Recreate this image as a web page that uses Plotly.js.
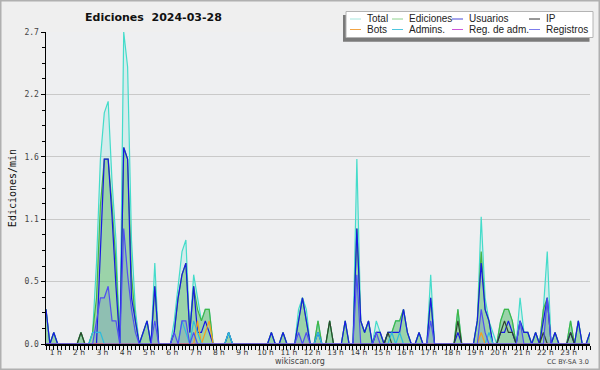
<!DOCTYPE html>
<html><head><meta charset="utf-8">
<script src="https://cdn.plot.ly/plotly-3.0.1.min.js"></script>
<style>html,body{margin:0;padding:0;background:#efefef}#chart{width:600px;height:370px}</style>
</head><body><div id="chart"></div>
<script>
// 10-minute bins, edits per minute
const hourLabels = ['1 h','2 h','3 h','4 h','5 h','6 h','7 h','8 h','9 h','10 h','11 h','12 h','13 h','14 h','15 h','16 h','17 h','18 h','19 h','20 h','21 h','22 h','23 h'];
const yTickText = ['0.0','0.5','1.1','1.6','2.2','2.7'];
const yTickVals = [0, 0.54, 1.08, 1.62, 2.16, 2.7];

const total = [
0.3,0,0.1,0,0,0,0,0,0,0.1,
0,0,0.1,0.7,1.6,2.0,2.1,1.4,0.9,0,
2.7,2.4,0.9,0.3,0,0.1,0.2,0,0.7,0,
0,0,0,0.2,0.5,0.8,0.9,0.1,0.6,0.4,
0.2,0.3,0.3,0,0,0,0,0.1,0,0,
0,0,0,0,0,0,0,0,0.1,0,
0,0.1,0,0,0,0.3,0.4,0.3,0,0,
0.2,0,0,0.2,0,0,0,0.2,0,0,
1.6,0.2,0.1,0.2,0,0.2,0.1,0,0.1,0.1,
0.2,0.2,0.3,0.1,0,0,0.1,0,0,0.6,
0,0,0,0,0,0,0.3,0,0,0,
0,0.2,1.1,0.4,0.2,0.1,0,0.2,0.3,0.3,
0.2,0,0.4,0.1,0.1,0,0.1,0,0.3,0.8,
0,0.1,0,0,0,0.2,0,0.2,0,0,0.1];

const ediciones = [
0.3,0,0.1,0,0,0,0,0,0,0.1,
0,0,0.1,0.4,1.2,1.6,1.6,1.2,0.7,0,
1.7,1.6,0.6,0.2,0,0.1,0.2,0,0.5,0,
0,0,0,0.1,0.4,0.6,0.7,0.1,0.5,0.3,
0.2,0.3,0.3,0,0,0,0,0.1,0,0,
0,0,0,0,0,0,0,0,0.1,0,
0,0.1,0,0,0,0.2,0.4,0.2,0,0,
0.2,0,0,0.2,0,0,0,0.2,0,0,
1.0,0.2,0.1,0.2,0,0.1,0.1,0,0.1,0.1,
0.2,0.2,0.3,0.1,0,0,0.1,0,0,0.4,
0,0,0,0,0,0,0.3,0,0,0,
0,0.2,0.8,0.3,0.2,0,0,0.2,0.3,0.3,
0.2,0,0.2,0.1,0.1,0,0.1,0,0.3,0.4,
0,0.1,0,0,0,0.2,0,0.2,0,0,0.1];

const usuarios = [
0.3,0,0.1,0,0,0,0,0,0,0,
0,0,0,0,0.8,1.6,1.6,1.1,0.5,0,
1.7,1.6,0.4,0.2,0,0.1,0.2,0,0.5,0,
0,0,0,0.1,0.4,0.6,0.7,0.1,0.5,0.1,
0.1,0.2,0.1,0,0,0,0,0.1,0,0,
0,0,0,0,0,0,0,0,0.1,0,
0,0.1,0,0,0,0.2,0.4,0.2,0,0,
0.1,0,0,0,0,0,0,0.2,0,0,
1.0,0.2,0.1,0.2,0,0.1,0.1,0,0.1,0.1,
0.1,0.1,0.3,0.1,0,0,0.1,0,0,0.4,
0,0,0,0,0,0,0.1,0,0,0,
0,0.2,0.7,0.3,0.2,0,0,0.1,0.1,0.2,
0.1,0,0.2,0.1,0.1,0,0.1,0,0.2,0.4,
0,0.1,0,0,0,0.1,0,0.2,0,0,0.1];

const ip = [
0,0,0,0,0,0,0,0,0,0.1,
0,0,0,0,0,0,0,0,0,0,
0,0,0,0,0,0,0,0,0,0,
0,0,0,0,0,0,0,0,0,0,
0,0,0,0,0,0,0,0,0,0,
0,0,0,0,0,0,0,0,0,0,
0,0,0,0,0,0,0,0,0,0,
0,0,0,0.2,0,0,0,0,0,0,
0,0,0,0,0,0,0,0,0.1,0,
0,0,0,0,0,0,0,0,0,0,
0,0,0,0,0,0,0.2,0,0,0,
0,0,0,0,0,0,0,0.1,0.2,0.1,
0.1,0,0,0,0,0,0,0,0.1,0,
0,0,0,0,0,0.1,0,0,0,0,0];

const bots = [
0,0,0,0,0,0,0,0,0,0,
0,0,0,0,0,0,0,0,0,0,
0,0,0,0,0,0,0,0,0,0,
0,0,0,0,0,0,0,0,0,0.2,
0,0.1,0.2,0,0,0,0,0,0,0,
0,0,0,0,0,0,0,0,0,0,
0,0,0,0,0,0,0,0,0,0,
0,0,0,0,0,0,0,0,0,0,
0,0,0,0,0,0,0,0,0,0,
0,0,0,0,0,0,0,0,0,0,
0,0,0,0,0,0,0,0,0,0,
0,0,0.1,0,0,0,0,0,0,0,
0,0,0,0,0,0,0,0,0,0,
0,0,0,0,0,0,0,0,0,0,0];

const admins = [
0,0,0,0,0,0,0,0,0,0,
0,0,0.1,0.1,0.1,0,0,0,0,0,
0,0,0,0,0,0,0,0,0,0,
0,0,0,0,0,0.2,0.1,0,0.2,0.1,
0,0,0,0,0,0,0,0.1,0,0,
0,0,0,0,0,0,0,0,0,0,
0,0,0,0,0,0,0,0,0,0,
0.1,0,0,0,0,0,0,0,0,0,
0,0,0,0,0,0,0,0,0,0.1,
0,0.1,0,0,0,0,0,0,0,0,
0,0,0,0,0,0,0,0,0,0,
0,0,0,0,0.1,0,0,0,0,0,
0,0,0,0,0,0,0,0,0,0,
0,0,0,0,0,0,0,0,0,0,0];

const regAdm = [
0,0,0,0,0,0,0,0,0,0,
0,0,0,0,0,0,0,0,0,0,
0,0,0,0,0,0,0,0,0,0,
0,0,0,0,0,0,0,0,0,0,
0,0,0,0,0,0,0,0,0,0,
0,0,0,0,0,0,0,0,0,0,
0,0,0,0,0,0,0,0,0,0,
0,0,0,0,0,0,0,0,0,0,
0,0,0,0,0,0,0,0,0,0,
0,0,0,0,0,0,0,0,0,0,
0,0,0,0,0,0,0,0,0,0,
0,0,0,0,0,0,0,0,0,0,
0,0,0,0,0,0,0,0,0,0,
0,0,0,0,0,0,0,0,0,0,0];

const registros = [
0,0,0,0,0,0,0,0,0,0,
0,0,0,0.2,0.4,0.4,0.5,0.2,0.2,0,
1.0,0.6,0.3,0.1,0,0,0,0,0.2,0,
0,0,0,0.1,0,0.2,0.2,0,0.1,0,
0,0,0,0,0,0,0,0,0,0,
0,0,0,0,0,0,0,0,0,0,
0,0,0,0,0,0.1,0,0.1,0,0,
0,0,0,0,0,0,0,0,0,0,
0.6,0,0,0,0,0.1,0,0,0,0,
0,0,0,0,0,0,0,0,0,0.2,
0,0,0,0,0,0,0,0,0,0,
0,0,0.3,0.1,0,0,0,0,0,0,
0,0,0.2,0,0,0,0,0,0,0.4,
0,0,0,0,0,0,0,0,0,0,0];

const seriesNames = ['Total','Ediciones','Usuarios','IP','Bots','Admins.','Reg. de adm.','Registros'];
const seriesData = [total, ediciones, usuarios, ip, bots, admins, regAdm, registros];
const lineColors = ['#44dcca','#44b444','#1818e4','#2e452e','#f5a020','#30bcdc','#cc44cc','#5050f0'];
const legendColors = ['#a6e6de','#8ed28e','#4848d8','#303030','#f2a444','#4ec6de','#cc55d8','#7c7cec'];

const idx = total.map((_, i) => i);
const hourPos = hourLabels.map((_, k) => 6 * (k + 1) - 3.5);

const W = 600, H = 370, ml = 46, mr = 10, mt = 32, mb = 26;
const pw = W - ml - mr, ph = H - mt - mb;
const px = v => (v - ml) / pw;
const py = v => 1 - (v - mt) / ph;

const traces = [];
// area fills
[[total, 'rgba(64,224,208,0.15)'], [ediciones, 'rgba(70,175,70,0.40)'], [registros, 'rgba(70,70,235,0.14)']].forEach(([d, c]) => {
  traces.push({x: idx, y: d, type: 'scatter', mode: 'lines', line: {width: 0, color: 'rgba(0,0,0,0)'},
    fill: 'tozeroy', fillcolor: c, hoverinfo: 'skip', showlegend: false});
});
seriesData.forEach((d, s) => {
  traces.push({x: idx, y: d, type: 'scatter', mode: 'lines', name: seriesNames[s],
    line: {color: lineColors[s], width: 1.2}, showlegend: false});
});

// manual compact legend (2 rows x 4 columns)
const shapes = [];
const annotations = [];
const colTextX = [366, 408, 468, 545];
const rowY = [19, 29.5];
shapes.push({type: 'rect', xref: 'paper', yref: 'paper', x0: px(343), x1: px(589.5), y0: py(41.7), y1: py(15),
  fillcolor: '#7a7a7a', line: {width: 0}, layer: 'above'});
shapes.push({type: 'rect', xref: 'paper', yref: 'paper', x0: px(346), x1: px(593), y0: py(37.5), y1: py(11.5),
  fillcolor: '#ffffff', line: {width: 1, color: '#b4b4b4'}, layer: 'above'});
seriesNames.forEach((n, s) => {
  const c = s % 4, r = Math.floor(s / 4);
  const tx = colTextX[c];
  shapes.push({type: 'line', xref: 'paper', yref: 'paper', x0: px(tx - 16), x1: px(tx - 5), y0: py(rowY[r]), y1: py(rowY[r]),
    line: {color: legendColors[s], width: 1}, layer: 'above'});
  annotations.push({xref: 'paper', yref: 'paper', x: px(tx - 1), y: py(rowY[r]), xanchor: 'left', yanchor: 'middle',
    text: n, showarrow: false, font: {family: 'Liberation Sans, Arial, sans-serif', size: 10, color: '#222'}});
});
// outer frame
shapes.push({type: 'rect', xref: 'paper', yref: 'paper', x0: px(0), x1: px(600), y0: py(370), y1: py(0),
  line: {width: 3, color: '#b0b0b0'}, fillcolor: 'rgba(0,0,0,0)', layer: 'above'});

annotations.push({xref: 'paper', yref: 'paper', x: px(300), y: py(361), xanchor: 'center', yanchor: 'middle',
  text: 'wikiscan.org', showarrow: false, font: {family: 'DejaVu Sans', size: 8, color: '#444'}});
annotations.push({xref: 'paper', yref: 'paper', x: px(591), y: py(362), xanchor: 'right', yanchor: 'middle',
  text: 'CC BY-SA 3.0', showarrow: false, font: {family: 'DejaVu Sans', size: 6.5, color: '#444'}});

const layout = {
  width: W, height: H,
  margin: {l: ml, r: mr, t: mt, b: mb, pad: 0},
  paper_bgcolor: '#efefef', plot_bgcolor: '#eeeff1',
  showlegend: false,
  title: {text: 'Ediciones\u00a0 2024-03-28', xref: 'container', yref: 'container', x: 85 / W, xanchor: 'left',
    y: 1 - 17 / H, yanchor: 'middle', font: {family: 'DejaVu Sans', size: 11, color: '#111', weight: 'bold'}},
  xaxis: {
    range: [0, 140], tickmode: 'array', tickvals: hourPos, ticktext: hourLabels, ticks: '',
    tickfont: {family: 'DejaVu Sans', size: 7.5, color: '#333'},
    showgrid: false, zeroline: false, showline: true, linecolor: '#000', linewidth: 2,
    minor: {tickmode: 'linear', tick0: 0, dtick: 1, ticks: 'outside', ticklen: 4, tickcolor: '#000', tickwidth: 1, showgrid: false},
    fixedrange: true
  },
  yaxis: {
    range: [0, 2.7], tickmode: 'array', tickvals: yTickVals, ticktext: yTickText, ticks: 'outside', ticklen: 4,
    tickcolor: '#000', tickwidth: 1,
    tickfont: {family: 'DejaVu Sans Mono', size: 8, color: '#444'},
    showgrid: true, gridcolor: '#c9c9c9', gridwidth: 1, zeroline: false,
    showline: true, linecolor: '#000', linewidth: 1.5,
    minor: {tickmode: 'linear', tick0: 0, dtick: 0.135, ticks: 'outside', ticklen: 3, tickcolor: '#000', tickwidth: 1, showgrid: false},
    title: {text: 'Ediciones/min', standoff: 6, font: {family: 'DejaVu Sans Mono', size: 10, color: '#111'}},
    fixedrange: true
  },
  shapes: shapes,
  annotations: annotations
};

Plotly.newPlot('chart', traces, layout, {displayModeBar: false, staticPlot: true});
</script>
</body></html>
